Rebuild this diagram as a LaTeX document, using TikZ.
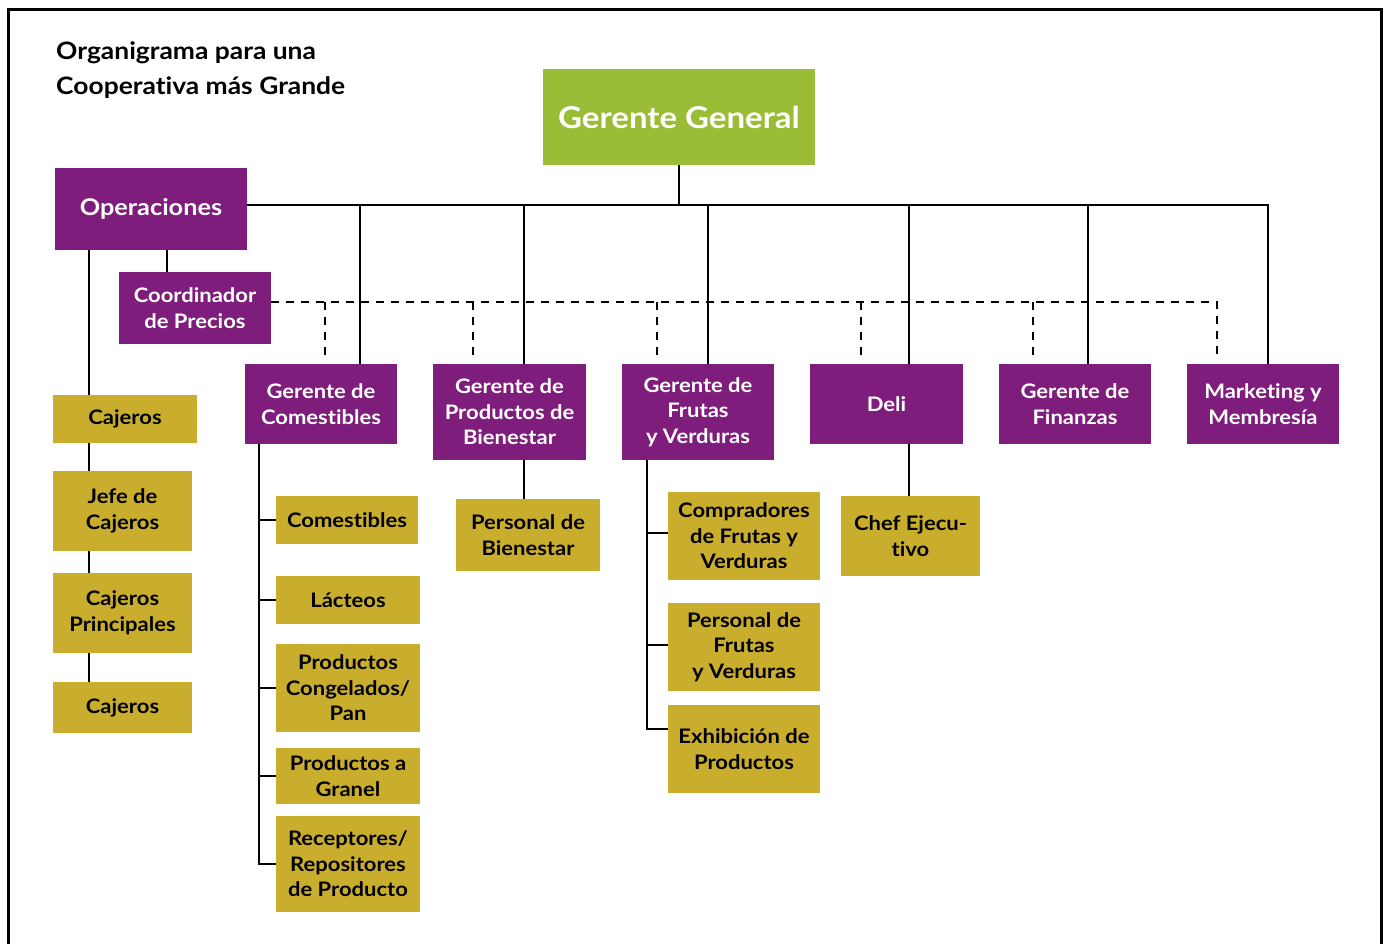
\documentclass[tikz,border=0pt]{standalone}
\usepackage{fontspec}
\setmainfont{Lato}[FakeStretch=1.1, Ligatures=NoCommon]
\usetikzlibrary{backgrounds}
\definecolor{purp}{HTML}{7F1D7D}
\definecolor{grn}{HTML}{9BBC37}
\definecolor{gold}{HTML}{C9AE2E}
\tikzset{
  box/.style={inner sep=0pt, align=center, font=\fontsize{20}{25.5}\selectfont\bfseries},
  pbox/.style={box, fill=purp, text=white},
  gbox/.style={box, fill=gold, text=black},
  conn/.style={line width=2.2pt, draw=black},
  dconn/.style={conn, dash pattern=on 8pt off 7pt},
}
\begin{document}
\begin{tikzpicture}[x=1pt,y=-1pt]
\useasboundingbox (0,0) rectangle (1384,944);
\draw[line width=3pt] (8.5,960) -- (8.5,9.5) -- (1381,9.5) -- (1381,960);

\node[anchor=north west, inner sep=0pt, align=left, font=\fontsize{24}{35}\selectfont\bfseries] (title) at (56,41.5) {Organigrama para una\\Cooperativa más Grande};

% top level
\node[box, fill=grn, text=white, font=\fontsize{30}{36}\selectfont\bfseries, minimum width=272pt, minimum height=96pt] (gg) at (679,117) {Gerente General};
\node[pbox, font=\fontsize{23}{28}\selectfont\bfseries, minimum width=192pt, minimum height=82pt] (ops) at (151,209) {Operaciones};
\node[pbox, minimum width=152pt, minimum height=72pt] (coord) at (195,308) {Coordinador\\de Precios};
\node[pbox, minimum width=152pt, minimum height=80pt] (gcom) at (321,404) {Gerente de\\Comestibles};
\node[pbox, minimum width=153pt, minimum height=96pt] (gbien) at (509.5,412) {Gerente de\\Productos de\\Bienestar};
\node[pbox, minimum width=152pt, minimum height=96pt] (gfru) at (698,412) {Gerente de\\Frutas\\y Verduras};
\node[pbox, minimum width=153pt, minimum height=80pt] (deli) at (886.5,404) {Deli};
\node[pbox, minimum width=152pt, minimum height=80pt] (gfin) at (1075,404) {Gerente de\\Finanzas};
\node[pbox, minimum width=152pt, minimum height=80pt] (mkt) at (1263,404) {Marketing y\\Membresía};

% cajeros column
\node[gbox, minimum width=144pt, minimum height=48pt] (cj1) at (125,419) {Cajeros};
\node[gbox, minimum width=139pt, minimum height=80pt] (jefe) at (122.5,511) {Jefe de\\Cajeros};
\node[gbox, minimum width=139pt, minimum height=80pt] (cprin) at (122.5,613) {Cajeros\\Principales};
\node[gbox, minimum width=139pt, minimum height=51pt] (cj2) at (122.5,707.5) {Cajeros};

% comestibles
\node[gbox, minimum width=142pt, minimum height=48pt] (com) at (347,520) {Comestibles};
\node[gbox, minimum width=144pt, minimum height=48pt] (lac) at (348,600) {Lácteos};
\node[gbox, minimum width=144pt, minimum height=88pt] (cong) at (348,688) {Productos\\Congelados/\\Pan};
\node[gbox, minimum width=144pt, minimum height=56pt] (gran) at (348,776) {Productos a\\Granel};
\node[gbox, minimum width=144pt, minimum height=96pt] (rec) at (348,864) {Receptores/\\Repositores\\de Producto};

% bienestar
\node[gbox, minimum width=144pt, minimum height=72pt] (pbien) at (528,535) {Personal de\\Bienestar};

% frutas
\node[gbox, minimum width=152pt, minimum height=88pt] (comp) at (744,536) {Compradores\\de Frutas y\\Verduras};
\node[gbox, minimum width=152pt, minimum height=88pt] (pfru) at (744,647) {Personal de\\Frutas\\y Verduras};
\node[gbox, minimum width=152pt, minimum height=88pt] (exh) at (744,749) {Exhibición de\\Productos};

% deli
\node[gbox, minimum width=139pt, minimum height=80pt] (chef) at (910.5,536) {Chef Ejecu-\\tivo};

\coordinate (bus) at (0,205);
\coordinate (dl) at (0,302);

\begin{scope}[on background layer]
% solid bus
\draw[conn] (gg.south) -- (gg.south |- bus);
\draw[conn] (ops.east |- bus) -| ([xshift=5pt]mkt.north);
\draw[conn] ([xshift=39pt]gcom.north) -- ([xshift=39pt]gcom.north |- bus);
\draw[conn] ([xshift=14.5pt]gbien.north) -- ([xshift=14.5pt]gbien.north |- bus);
\draw[conn] ([xshift=10pt]gfru.north) -- ([xshift=10pt]gfru.north |- bus);
\draw[conn] ([xshift=22.5pt]deli.north) -- ([xshift=22.5pt]deli.north |- bus);
\draw[conn] ([xshift=13pt]gfin.north) -- ([xshift=13pt]gfin.north |- bus);
% coordinator
\draw[conn] ([xshift=16pt]ops.south) -- ([xshift=16pt]ops.south |- coord.north);
% dashed
\draw[dconn] (coord.east |- dl) -- ([xshift=-46pt]mkt.north |- dl) -- ([xshift=-46pt,yshift=6pt]mkt.north);
\draw[dconn] ([xshift=4pt]gcom.north |- dl) -- ([xshift=4pt,yshift=6pt]gcom.north);
\draw[dconn] ([xshift=-36.5pt]gbien.north |- dl) -- ([xshift=-36.5pt,yshift=6pt]gbien.north);
\draw[dconn] ([xshift=-41pt]gfru.north |- dl) -- ([xshift=-41pt,yshift=6pt]gfru.north);
\draw[dconn] ([xshift=-25.5pt]deli.north |- dl) -- ([xshift=-25.5pt,yshift=6pt]deli.north);
\draw[dconn] ([xshift=-42pt]gfin.north |- dl) -- ([xshift=-42pt,yshift=6pt]gfin.north);
% cajeros
\draw[conn] ([xshift=-62pt]ops.south) -- ([xshift=-62pt]ops.south |- cj2.north);
% comestibles
\draw[conn] ([xshift=-62pt]gcom.south) |- (rec.west);
\draw[conn] ([xshift=-62pt]gcom.south |- com.west) -- (com.west);
\draw[conn] ([xshift=-62pt]gcom.south |- lac.west) -- (lac.west);
\draw[conn] ([xshift=-62pt]gcom.south |- cong.west) -- (cong.west);
\draw[conn] ([xshift=-62pt]gcom.south |- gran.west) -- (gran.west);
% bienestar
\draw[conn] ([xshift=14.5pt]gbien.south) -- ([xshift=14.5pt]gbien.south |- pbien.north);
% frutas
\draw[conn] ([xshift=-51pt]gfru.south) |- ([yshift=20pt]exh.west);
\draw[conn] ([xshift=-51pt]gfru.south |- comp.west) ++(0,-3) -- ([yshift=3pt]comp.west);
\draw[conn] ([xshift=-51pt]gfru.south |- pfru.west) ++(0,-2) -- ([yshift=2pt]pfru.west);
% deli
\draw[conn] ([xshift=22.5pt]deli.south) -- ([xshift=22.5pt]deli.south |- chef.north);
\end{scope}
\end{tikzpicture}
\end{document}
